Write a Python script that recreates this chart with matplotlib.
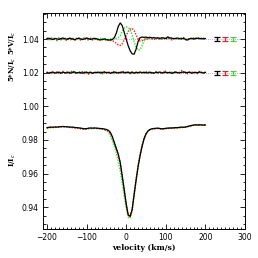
import numpy as np
import matplotlib
matplotlib.use("Agg")
import matplotlib.pyplot as plt
from matplotlib.ticker import MultipleLocator
from matplotlib.transforms import blended_transform_factory

# velocity grid (km/s)
vel = np.arange(-200, 201, 5)

# Stokes I / Ic
i_black = [
    0.9873, 0.9875, 0.9876, 0.9875, 0.9877, 0.9876, 0.9878, 0.9879, 0.9880, 0.9879,
    0.9878, 0.9877, 0.9876, 0.9876, 0.9874, 0.9873, 0.9872, 0.9870, 0.9868, 0.9866,
    0.9867, 0.9870, 0.9871, 0.9870, 0.9871, 0.9870, 0.9869, 0.9868, 0.9867, 0.9865,
    0.9862, 0.9857, 0.9845, 0.9820, 0.9785, 0.9750, 0.9715, 0.9665, 0.9585, 0.9505,
    0.9420, 0.9355, 0.9345, 0.9385, 0.9475, 0.9560, 0.9640, 0.9705, 0.9760, 0.9805,
    0.9835, 0.9853, 0.9862, 0.9866, 0.9868, 0.9869, 0.9870, 0.9868, 0.9866, 0.9867,
    0.9869, 0.9870, 0.9871, 0.9871, 0.9872, 0.9873, 0.9873, 0.9875, 0.9876, 0.9875,
    0.9877, 0.9880, 0.9883, 0.9886, 0.9888, 0.9890, 0.9889, 0.9890, 0.9889, 0.9888,
    0.9889]
i_red = [
    0.9872, 0.9874, 0.9877, 0.9874, 0.9876, 0.9878, 0.9876, 0.9877, 0.9879, 0.9877,
    0.9879, 0.9875, 0.9874, 0.9873, 0.9871, 0.9869, 0.9870, 0.9866, 0.9864, 0.9862,
    0.9864, 0.9867, 0.9869, 0.9866, 0.9869, 0.9868, 0.9867, 0.9865, 0.9864, 0.9861,
    0.9859, 0.9853, 0.9840, 0.9815, 0.9782, 0.9748, 0.9710, 0.9662, 0.9585, 0.9503,
    0.9418, 0.9352, 0.9343, 0.9388, 0.9480, 0.9568, 0.9648, 0.9714, 0.9768, 0.9810,
    0.9838, 0.9852, 0.9860, 0.9864, 0.9866, 0.9866, 0.9868, 0.9865, 0.9863, 0.9864,
    0.9867, 0.9868, 0.9869, 0.9870, 0.9870, 0.9871, 0.9872, 0.9873, 0.9874, 0.9874,
    0.9876, 0.9878, 0.9882, 0.9885, 0.9887, 0.9888, 0.9888, 0.9886, 0.9888, 0.9887,
    0.9887]
i_green = [
    0.9866, 0.9870, 0.9873, 0.9874, 0.9875, 0.9874, 0.9877, 0.9878, 0.9877, 0.9878,
    0.9877, 0.9876, 0.9875, 0.9874, 0.9873, 0.9872, 0.9871, 0.9869, 0.9867, 0.9866,
    0.9866, 0.9868, 0.9870, 0.9869, 0.9870, 0.9869, 0.9868, 0.9866, 0.9864, 0.9860,
    0.9855, 0.9845, 0.9825, 0.9795, 0.9760, 0.9720, 0.9672, 0.9615, 0.9540, 0.9465,
    0.9395, 0.9340, 0.9333, 0.9375, 0.9465, 0.9555, 0.9638, 0.9708, 0.9765, 0.9808,
    0.9837, 0.9854, 0.9862, 0.9866, 0.9868, 0.9868, 0.9869, 0.9867, 0.9866, 0.9867,
    0.9868, 0.9869, 0.9870, 0.9870, 0.9871, 0.9872, 0.9873, 0.9874, 0.9875, 0.9875,
    0.9876, 0.9879, 0.9882, 0.9885, 0.9887, 0.9889, 0.9890, 0.9891, 0.9890, 0.9889,
    0.9890]

# 5*V/Ic, in units of 1e-3 around its offset
v_black = [
    0.3, 0.5, 0.2, -0.3, 0.4, 0.1, -0.2, 0.3, 0.6, 0.2,
    -0.1, 0.4, 0.3, 0.0, -0.4, 0.2, 0.5, 0.1, -0.3, 0.2,
    0.6, 0.3, -0.2, 0.1, 0.4, 0.2, -0.3, -0.5, -0.2, 0.1,
    -0.4, -0.6, -0.5, -0.3, 0.8, 3.5, 7.5, 9.6, 8.0, 4.0,
    0.0, -4.0, -7.0, -8.8, -9.0, -6.0, -1.5, 0.8, 1.2, 1.0,
    1.2, 0.8, 1.1, 0.6, 0.9, 0.5, 0.7, 0.4, 0.8, 0.6,
    0.3, 1.3, 0.7, 0.5, 0.2, 0.4, 0.6, 0.3, 0.1, 0.5,
    -0.3, -0.6, 0.2, 0.4, 0.1, 0.3, 0.5, 0.2, 0.4, 0.1,
    0.3]
v_red = [
    -0.4, 0.3, -0.7, 0.2, -0.2, -0.9, 0.1, -0.5, 0.4, -0.3,
    -0.8, 0.0, -0.4, 0.5, -0.6, -0.2, 0.3, -0.7, -0.1, 0.2,
    -0.5, -0.3, 0.4, -0.6, -0.2, 0.1, -0.8, -0.4, -0.1, -0.6,
    -0.3, -0.5, -0.8, -1.0, -1.5, -2.5, -3.5, -3.8, -2.8, -0.5,
    2.0, 4.5, 6.0, 6.3, 5.0, 2.5, 0.0, -1.2, -1.0, -0.3,
    0.4, -0.2, 0.6, 0.1, -0.4, 0.3, 0.8, -0.1, 0.2, 0.5,
    -0.3, 0.7, 0.2, -0.5, 0.4, 0.1, 0.6, -0.2, 0.3, 0.9,
    0.0, -0.4, 0.5, 0.2, -0.1, 0.6, 0.3, 0.8, 0.1, 0.4,
    0.2]
v_green = [
    0.8, -0.4, 0.6, 1.0, -0.2, 0.5, 0.9, -0.5, 0.3, 0.7,
    -0.3, 0.4, 1.1, 0.2, -0.6, 0.5, 0.8, -0.1, 0.3, 0.9,
    0.4, -0.4, 0.6, 0.2, 0.8, -0.2, 0.1, 0.5, -0.5, 0.3,
    0.2, -0.3, 0.1, 0.6, 0.5, 0.4, 0.8, 2.0, 4.5, 6.5,
    7.3, 7.0, 5.5, 2.5, -1.5, -5.0, -6.6, -6.4, -4.0, -1.0,
    0.3, 0.9, 0.5, 1.2, 0.6, 0.2, 0.8, 0.4, -0.2, 0.7,
    1.0, 0.3, 0.6, 0.9, 0.1, 0.5, -0.3, 0.4, 0.8, 0.2,
    -0.5, -0.2, 0.6, 0.3, 0.9, 0.1, 0.4, 0.7, 0.2, 0.5,
    0.3]

# 5*N/Ic, in units of 1e-3 around its offset
n_black = [
    0.2, -0.3, 0.1, 0.4, -0.2, 0.0, 0.3, -0.4, 0.2, 0.1,
    -0.1, 0.3, -0.3, 0.2, 0.4, -0.2, 0.1, 0.0, -0.3, 0.2,
    0.3, -0.1, 0.1, -0.4, 0.2, 0.0, 0.3, -0.2, 0.1, 0.4,
    -0.1, 0.2, -0.3, 0.0, 0.3, 0.1, -0.2, 0.2, 0.4, -0.1,
    0.0, 0.3, -0.2, 0.1, -0.3, 0.2, 0.0, 0.4, -0.1, 0.2,
    0.1, -0.2, 0.3, 0.0, -0.3, 0.2, 0.1, 0.4, -0.2, 0.0,
    0.3, -0.1, 0.2, -0.4, 0.1, 0.3, 0.0, -0.2, 0.2, 0.5,
    -0.1, 0.1, 0.3, -0.3, 0.0, 0.2, -0.1, 0.4, 0.1, -0.2,
    0.2]
n_red = [
    -0.5, 0.2, -0.8, 0.4, -0.3, 0.6, -0.6, 0.1, 0.8, -0.4,
    0.3, -0.7, 0.5, 1.2, -0.2, -0.6, 0.4, -0.3, 0.7, -0.5,
    0.2, -0.9, 0.4, 0.1, -0.4, 0.6, -0.2, 0.3, -0.7, 0.5,
    -0.1, 0.4, -0.6, 0.2, 0.7, -0.3, 0.1, -0.5, 0.4, 0.8,
    -0.2, 0.3, -0.6, 0.5, -0.1, 0.2, -0.7, 0.4, 0.1, -0.4,
    0.6, -0.2, 0.3, -0.8, 0.1, 0.5, -0.3, 0.2, -0.6, 0.4,
    0.9, -0.2, 0.1, -0.5, 0.3, 0.6, -0.4, 0.2, 1.3, -0.3,
    0.4, -0.7, 0.2, 0.5, -0.2, 0.1, -0.6, 0.7, 0.3, -0.4,
    0.1]
n_green = [
    0.4, -0.2, 0.6, 0.1, -0.5, 0.3, 0.7, -0.1, 0.2, -0.4,
    0.5, 0.1, -0.3, 0.6, 0.2, -0.2, 0.4, 0.8, -0.1, 0.3,
    -0.5, 0.2, 0.6, -0.3, 0.1, 0.4, -0.2, 0.7, 0.3, -0.4,
    0.2, 0.5, -0.1, 0.3, -0.6, 0.4, 0.1, 0.6, -0.2, 0.3,
    0.5, -0.3, 0.2, 0.7, -0.1, 0.4, 0.1, -0.5, 0.6, 0.2,
    -0.2, 0.3, 0.5, -0.4, 0.2, 0.6, 0.0, -0.3, 0.4, 0.7,
    0.1, -0.2, 0.5, 0.3, -0.4, 0.2, 0.6, -0.1, 0.3, 0.5,
    -0.3, 0.2, 0.4, 0.1, 0.6, -0.2, 0.3, 0.5, 0.0, 0.4,
    0.2]

v_offset = 1.04
n_offset = 1.02
err_vel = [230, 250, 270]
err_size = 1.2e-3
colors = ['black', '#ff1a1a', '#1aee1a']

fig = plt.figure(figsize=(2.58, 2.58), dpi=100)
ax = fig.add_axes([0.1667, 0.1124, 0.783, 0.8372])

# reference lines
ax.axhline(v_offset, color='#999999', ls=(0, (1, 1.5)), lw=0.6, zorder=0)
ax.axhline(n_offset, color='#999999', ls=(0, (1, 1.5)), lw=0.6, zorder=0)

sets = [(i_black, v_black, n_black), (i_red, v_red, n_red), (i_green, v_green, n_green)]
for k, (iprof, vprof, nprof) in enumerate(sets):
    c = colors[k]
    if k == 0:
        kw = dict(color=c, lw=0.9, ls='-', zorder=5)
    else:
        kw = dict(color=c, lw=1.0, ls=(0, (1, 1)), zorder=4 - k)
    ax.plot(vel, iprof, **kw)
    ax.plot(vel, v_offset + np.array(vprof) * 1e-3, **kw)
    ax.plot(vel, n_offset + np.array(nprof) * 1e-3, **kw)
    for off in (v_offset, n_offset):
        ax.errorbar(err_vel[k], off, yerr=err_size, ecolor=c, elinewidth=0.9,
                    capsize=2, capthick=0.9, fmt='none', zorder=6)

ax.set_xlim(-210, 300)
ax.set_ylim(0.927, 1.0555)
ax.xaxis.set_major_locator(MultipleLocator(100))
ax.xaxis.set_minor_locator(MultipleLocator(10))
ax.yaxis.set_major_locator(MultipleLocator(0.02))
ax.yaxis.set_minor_locator(MultipleLocator(0.005))
ax.yaxis.set_major_formatter(matplotlib.ticker.FormatStrFormatter('%.2f'))
ax.tick_params(which='both', direction='in', top=True, right=True, width=0.6,
               labelsize=5.5, pad=3)
ax.tick_params(which='major', length=3.5)
ax.tick_params(which='minor', length=1.8)
for s in ax.spines.values():
    s.set_linewidth(0.7)

ax.set_xlabel('velocity (km/s)', fontsize=5.5, family='DejaVu Serif',
              fontweight='bold', labelpad=1)

tr = blended_transform_factory(fig.transFigure, ax.transData)
lab_kw = dict(rotation=90, ha='center', va='center', fontsize=5,
              family='DejaVu Serif', fontweight='bold', transform=tr)
ax.text(13 / 258, 1.038, '5*V/I$_c$', **lab_kw)
ax.text(13 / 258, 1.022, '5*N/I$_c$', **lab_kw)
ax.text(13 / 258, 0.968, 'I/I$_c$', **lab_kw)

fig.savefig('out.png', dpi=100)
